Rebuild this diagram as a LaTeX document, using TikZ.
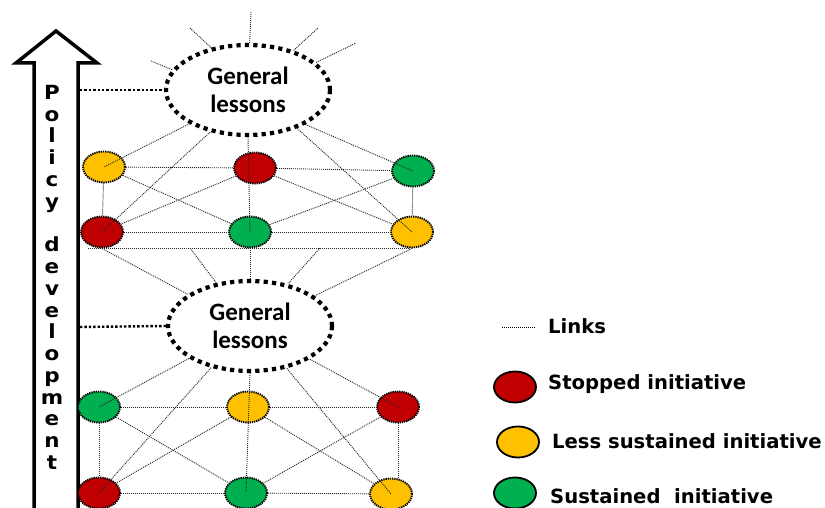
\documentclass[tikz,border=0pt]{standalone}
\usepackage{fontspec}
\newfontfamily\lessonfont{Carlito}
\newfontfamily\labelfont{DejaVu Sans}
\newfontfamily\stackfont{DejaVu Sans}[FakeStretch=1.1]
\usetikzlibrary{shapes.geometric}

\definecolor{stopred}{HTML}{C00000}
\definecolor{lessyellow}{HTML}{FFC000}
\definecolor{sustgreen}{HTML}{00B050}

\begin{document}
\begin{tikzpicture}[x=1pt,y=-1pt,
  lessons/.style={ellipse, draw=black, line width=4.2pt,
    dash pattern=on 4.2pt off 4.2pt, fill=white,
    minimum width=164pt, minimum height=90pt, inner sep=0pt, align=center,
    font=\lessonfont\bfseries\fontsize{25}{27.5}\selectfont},
  initiative/.style={ellipse, draw=black, line width=1.9pt,
    dash pattern=on 1.3pt off 0.9pt,
    minimum width=42pt, minimum height=31pt, inner sep=0pt},
  stopped/.style={initiative, fill=stopred},
  lesssust/.style={initiative, fill=lessyellow},
  sustained/.style={initiative, fill=sustgreen},
  link/.style={draw=black!85, line width=0.9pt, dash pattern=on 1pt off 1pt},
  policylink/.style={draw=black, line width=2.4pt, dash pattern=on 2.4pt off 2pt},
  keyshape/.style={ellipse, draw=black, line width=1.8pt,
    minimum width=42pt, minimum height=31pt, inner sep=0pt},
  keytext/.style={anchor=base west, inner sep=0pt,
    font=\labelfont\bfseries\fontsize{19.6}{22}\selectfont},
  stacktext/.style={anchor=north, inner sep=0pt, align=center,
    font=\stackfont\bfseries\fontsize{19.5}{21.76}\selectfont},
]
\useasboundingbox (0,0) rectangle (825,508);

% policy development arrow
\draw[line width=3.5pt, fill=white, line join=miter]
  (34,515) -- (34,63) -- (16,63) -- (56,31) -- (97,63) -- (78,63) -- (78,515);
\node[stacktext] (policy) at (52,85)
  {P\\o\\l\\i\\c\\y\\~\\d\\e\\v\\e\\l\\o\\p\\m\\e\\n\\t};
\coordinate (arrowU) at (80,90);
\coordinate (arrowL) at (80,327);

% general lessons
\node[lessons] (U) at (248,90) {General\\lessons};
\node[lessons] (L) at (250,326) {General\\lessons};

% initiatives, upper level
\node[lesssust]  (Y1) at (104,167) {};
\node[stopped]   (R1) at (255,168) {};
\node[sustained] (G1) at (413,171) {};
\node[stopped]   (R2) at (102,232) {};
\node[sustained] (G2) at (250,232) {};
\node[lesssust]  (Y2) at (412,232) {};

% initiatives, lower level
\node[sustained] (G3) at (99,407) {};
\node[lesssust]  (Y3) at (248,407) {};
\node[stopped]   (R3) at (398,407) {};
\node[stopped]   (R4) at (99,493) {};
\node[sustained] (G4) at (246,493) {};
\node[lesssust]  (Y4) at (391,494) {};

% free ends of the outgoing rays
\coordinate (rayA) at (251,12);
\coordinate (rayB) at (190,28);
\coordinate (rayC) at (151,61);
\coordinate (rayD) at (318,28);
\coordinate (rayE) at (356,43);
% line under the upper level
\coordinate (ba) at (88,248);
\coordinate (bb) at (409,248);
\coordinate (bc) at (190,248);
\coordinate (bd) at (320,248);

% policy links
\draw[policylink] (arrowU) -- (U.west);
\draw[policylink] (arrowL) -- (L.west);

% rays
\draw[link] (U.88) -- (rayA);
\draw[link] (U.131) -- (rayB);
\draw[link] (U.165) -- (rayC);
\draw[link] (U.41) -- (rayD);
\draw[link] (U.22) -- (rayE);

% upper level links
\draw[link] (Y1) -- (R1);
\draw[link] (R1) -- (G1);
\draw[link] (R2) -- (G2);
\draw[link] (G2) -- (Y2);
\draw[link] (Y1) -- (R2);
\draw[link] (G1) -- (Y2);
\draw[link] (Y1) -- (G2);
\draw[link] (R1) -- (R2);
\draw[link] (R1) -- (Y2);
\draw[link] (G2) -- (G1);
\draw[link] (ba) -- (bb);

% upper level to lower lessons
\draw[link] (R2.south) -- (L.153);
\draw[link] (bc) -- (L.128);
\draw[link] (G2.south) -- (L.north);
\draw[link] (bd) -- (L.48);
\draw[link] (Y2.south) -- (L.25);

% lower level links
\draw[link] (G3) -- (Y3);
\draw[link] (Y3) -- (R3);
\draw[link] (R4) -- (G4);
\draw[link] (G4) -- (Y4);
\draw[link] (G3) -- (R4);
\draw[link] (R3.south) -- (R3.south |- Y4.north);
\draw[link] (G3) -- (G4);
\draw[link] (Y3) -- (R4);
\draw[link] (Y3) -- (Y4);
\draw[link] (R3) -- (G4);

% lessons to initiatives
\draw[link] (U.210) -- (Y1.center);
\draw[link] (U.228) -- (R2.center);
\draw[link] (U.south) -- (G2.center);
\draw[link] (U.322) -- (Y2.center);
\draw[link] (U.329) -- (G1.center);
\draw[link] (L.208) -- (G3.center);
\draw[link] (L.227) -- (R4.center);
\draw[link] (L.south) -- (G4.center);
\draw[link] (L.311) -- (Y4.center);
\draw[link] (L.331) -- (R3.center);

% key
\coordinate (keyA) at (502,327);
\coordinate (keyB) at (535,327);
\draw[draw=black, line width=1pt, dash pattern=on 1pt off 1pt] (keyA) -- (keyB);
\node[keytext] (kLinks) at (548,333) {Links};
\node[keyshape, fill=stopred] (kR) at (515,387) {};
\node[keytext] (kStop) at (548,389) {Stopped initiative};
\node[keyshape, fill=lessyellow] (kY) at (518,442) {};
\node[keytext] (kLess) at (552,448) {Less sustained initiative};
\node[keyshape, fill=sustgreen] (kG) at (515,493) {};
\node[keytext] (kSust) at (550,503) {Sustained\ \ initiative};
\end{tikzpicture}
\end{document}
